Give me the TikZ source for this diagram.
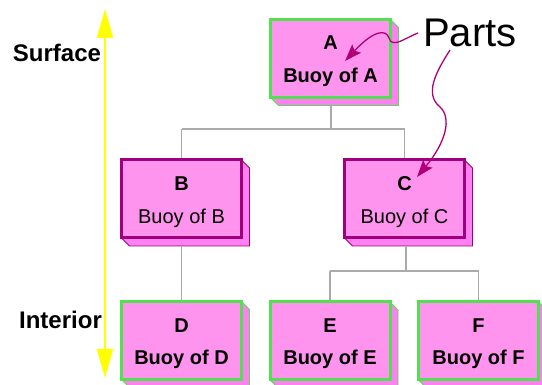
\documentclass[tikz,border=0pt]{standalone}
\usepackage{fontspec}
\setmainfont{Liberation Sans}
\usetikzlibrary{arrows.meta,backgrounds}

\definecolor{buoyfill}{RGB}{255,148,238}
\definecolor{buoyside}{RGB}{255,128,240}
\definecolor{buoygreen}{RGB}{80,224,80}
\definecolor{buoypurple}{RGB}{160,0,128}
\definecolor{treegray}{RGB}{170,170,170}
\definecolor{partsarrow}{RGB}{176,0,120}
\definecolor{depthyellow}{RGB}{255,255,0}

\tikzset{
  buoy/.style={draw=#1, line width=3pt, fill=buoyfill, rectangle,
    minimum width=120pt, minimum height=78pt, inner sep=0pt, outer sep=0pt},
  buoyface/.style={draw=#1, line width=0.8pt, fill=buoyside, line join=miter},
  tree/.style={draw=treegray, line width=1.3pt},
  lbl/.style={anchor=base, font=\fontsize{20}{20}\selectfont\bfseries},
  txt/.style={anchor=base, font=\fontsize{20}{20}\selectfont},
  txtb/.style={anchor=base, font=\fontsize{20}{20}\selectfont\bfseries},
  side/.style={anchor=base, font=\fontsize{24}{24}\selectfont\bfseries},
  pointer/.style={draw=partsarrow, line width=1.3pt,
    -{Stealth[length=17pt, width=12pt, inset=3pt]}},
}

% extruded right and bottom faces of a box
\newcommand{\buoydepth}[2]{%
  \begin{scope}[on background layer]
    \path[buoyface=#2] (#1.north east) -- ++(8,8) -- ([shift={(8,8)}]#1.south east)
      -- ([shift={(8,8)}]#1.south west) -- (#1.south west) -- (#1.south east) -- cycle;
  \end{scope}}

\begin{document}
\begin{tikzpicture}[x=1pt, y=-1pt]
  \useasboundingbox (0,0) rectangle (542,385);

  % boxes
  \node[buoy=buoygreen]  (a) at (330.5,58.5) {};
  \node[buoy=buoypurple] (b) at (181.5,199) {};
  \node[buoy=buoypurple] (c) at (404.5,199) {};
  \node[buoy=buoygreen]  (d) at (181.5,340.5) {};
  \node[buoy=buoygreen]  (e) at (330,341) {};
  \node[buoy=buoygreen]  (f) at (478.5,341) {};
  \buoydepth{a}{buoygreen}
  \buoydepth{b}{buoypurple}
  \buoydepth{c}{buoypurple}
  \buoydepth{d}{buoygreen}
  \buoydepth{e}{buoygreen}
  \buoydepth{f}{buoygreen}

  % box texts (yshift is upward on the page)
  \node[lbl]  (a-l) at ([yshift=8.5]a.center) {A};
  \node[txtb] (a-t) at ([yshift=-24.5]a.center) {Buoy of A};
  \node[lbl]  (b-l) at ([yshift=8]b.center) {B};
  \node[txt]  (b-t) at ([yshift=-25]b.center) {Buoy of B};
  \node[lbl]  (c-l) at ([yshift=8]c.center) {C};
  \node[txt]  (c-t) at ([yshift=-25]c.center) {Buoy of C};
  \node[lbl]  (d-l) at ([yshift=8]d.center) {D};
  \node[txtb] (d-t) at ([yshift=-24.5]d.center) {Buoy of D};
  \node[lbl]  (e-l) at ([yshift=8]e.center) {E};
  \node[txtb] (e-t) at ([yshift=-24]e.center) {Buoy of E};
  \node[lbl]  (f-l) at ([yshift=8]f.center) {F};
  \node[txtb] (f-t) at ([yshift=-24]f.center) {Buoy of F};

  % tree connectors
  \coordinate (ja) at (331,129);
  \coordinate (jc) at (406,271);
  \draw[tree] ([shift={(0.5,8)}]a.south) -- (ja);
  \draw[tree] (b.north |- ja) -- (c.north |- ja);
  \draw[tree] (b.north |- ja) -- ([yshift=1.5]b.north);
  \draw[tree] (c.north |- ja) -- ([yshift=1.5]c.north);
  \draw[tree] ([shift={(1.5,8)}]c.south) -- (jc);
  \draw[tree] (e.north |- jc) -- (f.north |- jc);
  \draw[tree] (e.north |- jc) -- ([yshift=1.5]e.north);
  \draw[tree] (f.north |- jc) -- ([yshift=1.5]f.north);
  \draw[tree] ([shift={(0,8)}]b.south) -- ([yshift=1.5]d.north);

  % depth axis
  \node[side] (surf) at (57,62) {Surface};
  \node[side] (intr) at (60.5,329) {Interior};
  \coordinate (ytop) at (105,9);
  \coordinate (ybot) at (105,378);
  \draw[draw=depthyellow, line width=2.2pt,
    {Triangle[length=29pt,width=16pt]}-{Triangle[length=29pt,width=16pt]}]
    (ybot) -- (ytop);

  % parts callout
  \node[anchor=base west, inner sep=0pt, font=\fontsize{40}{40}\selectfont] (parts) at (423,47) {Parts};
  \coordinate (tipa) at (345,61);
  \coordinate (tipc) at (417,177);
  \draw[pointer] ([shift={(-5,-14)}]parts.base west) .. controls (405,38) and (392,49) .. (389,38)
    .. controls (386,29) and (374,30) .. (tipa);
  \draw[pointer] ([shift={(27,3)}]parts.base west) .. controls (436,72) and (424,94) .. (440,107)
    .. controls (452,118) and (446,142) .. (tipc);
\end{tikzpicture}
\end{document}
